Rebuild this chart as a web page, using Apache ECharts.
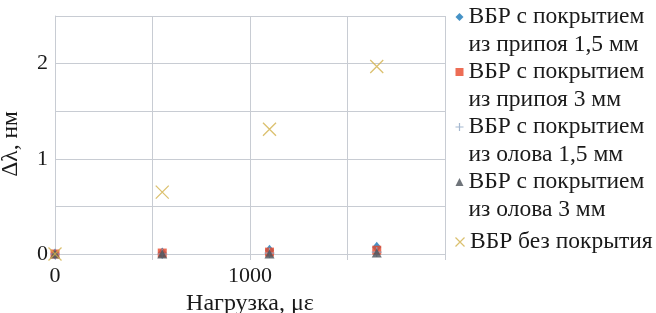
<!DOCTYPE html>
<html>
<head>
<meta charset="utf-8">
<script src="https://cdn.jsdelivr.net/npm/echarts@6/dist/echarts.min.js"></script>
<style>
  html, body { margin: 0; padding: 0; background: #fff; }
  #chart { width: 656px; height: 313px; }
</style>
</head>
<body>
<div id="chart"></div>
<script>
// нагрузка, με
var loads = [0, 550, 1100, 1650]
// Δλ, нм
var pripoy15 = [0, 0.01, 0.04, 0.07]
var pripoy3 = [0, 0.01, 0.02, 0.04]
var olovo15 = [0, 0, 0.01, 0.02]
var olovo3 = [0, 0, 0, 0.01]
var bezPokr = [0, 0.65, 1.31, 1.97]

var names = [
  'ВБР с покрытием\nиз припоя 1,5 мм',
  'ВБР с покрытием\nиз припоя 3 мм',
  'ВБР с покрытием\nиз олова 1,5 мм',
  'ВБР с покрытием\nиз олова 3 мм',
  'ВБР без покрытия'
]
var xTickLabels = { 0: '0', 1000: '1000' }
var yTickLabels = { 0: '0', 1: '1', 2: '2' }

var font = 'Liberation Serif'
var gridColor = '#c8ccd3'
var lh = 27.5

function pairs(ys) {
  return loads.map(function (x, i) { return [x, ys[i]] })
}

var chart = echarts.init(document.getElementById('chart'))
var option = {
  animation: false,
  textStyle: { fontFamily: font },
  grid: { left: 55, right: 211, top: 16, bottom: 59, outerBoundsMode: 'none' },
  legend: [
    {
      // подписи в две строки: пустая строка сверху, чтобы значок стоял у первой
      orient: 'vertical',
      left: 453,
      top: 17 - 1.5 * lh,
      padding: 0,
      itemGap: -lh,
      itemWidth: 8,
      itemHeight: 8,
      itemStyle: { borderWidth: 0 },
      formatter: function (name) { return '\n' + name },
      textStyle: { fontFamily: font, fontSize: 23.5, color: '#1a1a1a', lineHeight: lh },
      data: [names[0], names[1], { name: names[2], itemStyle: { borderWidth: 1.2 } }, names[3]]
    },
    {
      orient: 'vertical',
      left: 453,
      top: 242 - lh / 2,
      padding: 0,
      itemWidth: 10,
      itemHeight: 9,
      textStyle: { fontFamily: font, fontSize: 23.5, color: '#1a1a1a', lineHeight: lh },
      data: [{ name: names[4], itemStyle: { borderWidth: 1.2 } }]
    }
  ],
  xAxis: {
    type: 'value',
    min: 0,
    max: 2000,
    interval: 500,
    name: 'Нагрузка, με',
    nameLocation: 'middle',
    nameGap: 34,
    nameTextStyle: { fontFamily: font, fontSize: 24, color: '#1a1a1a' },
    axisLine: { show: true, lineStyle: { color: gridColor } },
    axisTick: { show: true, length: 6, lineStyle: { color: gridColor } },
    splitLine: { show: true, lineStyle: { color: gridColor } },
    axisLabel: {
      fontFamily: font, fontSize: 22, color: '#1a1a1a', margin: 11,
      formatter: function (v) { return xTickLabels[v] || '' }
    }
  },
  yAxis: {
    type: 'value',
    min: 0,
    max: 2.5,
    interval: 0.5,
    name: 'Δλ, нм',
    nameLocation: 'middle',
    nameGap: 32,
    nameTextStyle: { fontFamily: font, fontSize: 23.5, color: '#1a1a1a', padding: [0, 18, 0, 0] },
    axisLine: { show: true, lineStyle: { color: gridColor } },
    axisTick: { show: false },
    splitLine: { show: true, lineStyle: { color: gridColor } },
    axisLabel: {
      fontFamily: font, fontSize: 22, color: '#1a1a1a', margin: 7,
      formatter: function (v) { return yTickLabels[v] || '' }
    }
  },
  series: [
    {
      name: names[0], type: 'scatter', clip: false,
      symbol: 'diamond', symbolSize: [9, 11],
      itemStyle: { color: '#1877b8' },
      data: pairs(pripoy15)
    },
    {
      name: names[1], type: 'scatter', clip: false,
      symbol: 'rect', symbolSize: 9,
      itemStyle: { color: '#e8492b' },
      data: pairs(pripoy3)
    },
    {
      name: names[2], type: 'scatter', clip: false,
      symbol: 'path://M5,0L5,10M0,5L10,5', symbolSize: 10,
      itemStyle: { color: 'none', borderColor: '#8fa6c4', borderWidth: 1.2 },
      data: pairs(olovo15)
    },
    {
      name: names[3], type: 'scatter', clip: false,
      symbol: 'triangle', symbolSize: [10, 9],
      itemStyle: { color: '#4b5159' },
      data: pairs(olovo3)
    },
    {
      name: names[4], type: 'scatter', clip: false,
      symbol: 'path://M0,0L10,10M10,0L0,10', symbolSize: 13,
      itemStyle: { color: 'none', borderColor: '#d2b04a', borderWidth: 1.3 },
      data: pairs(bezPokr)
    }
  ]
}
chart.setOption(option)
</script>
</body>
</html>
